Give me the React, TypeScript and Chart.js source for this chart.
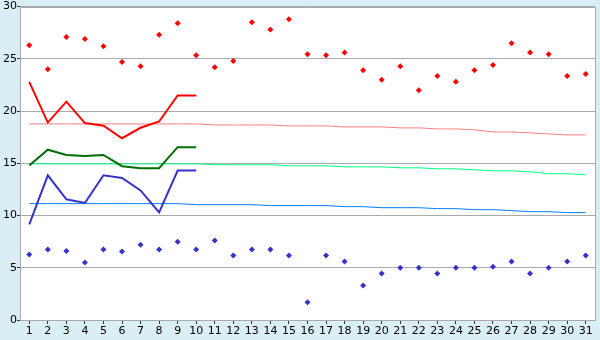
import React, { useEffect, useRef } from "react";
import { Chart, registerables } from "chart.js";

Chart.register(...registerables);

const days = ["1","2","3","4","5","6","7","8","9","10","11","12","13","14","15","16","17","18","19","20","21","22","23","24","25","26","27","28","29","30","31"];

const dailyMax = [26.3, 24.0, 27.1, 26.9, 26.2, 24.7, 24.3, 27.3, 28.4, 25.35, 24.2, 24.8, 28.5, 27.8, 28.8, 25.45, 25.35, 25.6, 23.9, 23.0, 24.3, 22.0, 23.35, 22.8, 23.9, 24.4, 26.5, 25.6, 25.45, 23.35, 23.55];
const dailyMin = [6.27, 6.75, 6.6, 5.5, 6.75, 6.55, 7.2, 6.75, 7.5, 6.75, 7.6, 6.17, 6.75, 6.75, 6.17, 1.7, 6.17, 5.6, 3.3, 4.45, 5.0, 5.0, 4.45, 5.0, 5.0, 5.1, 5.6, 4.45, 5.0, 5.6, 6.17];

const avgMax = [22.8, 18.9, 20.9, 18.85, 18.6, 17.4, 18.4, 19.0, 21.5, 21.5];
const avgMean = [14.8, 16.3, 15.8, 15.7, 15.8, 14.72, 14.53, 14.53, 16.54, 16.54];
const avgMin = [9.15, 13.85, 11.55, 11.2, 13.85, 13.6, 12.4, 10.3, 14.3, 14.3];

const normalMax = [18.77, 18.77, 18.77, 18.77, 18.77, 18.77, 18.77, 18.77, 18.77, 18.77, 18.67, 18.67, 18.67, 18.67, 18.58, 18.58, 18.58, 18.48, 18.48, 18.48, 18.39, 18.39, 18.29, 18.29, 18.2, 18.0, 18.0, 17.91, 17.81, 17.72, 17.72];
const normalMean = [14.95, 14.95, 14.95, 14.95, 14.95, 14.95, 14.95, 14.95, 14.95, 14.95, 14.86, 14.86, 14.86, 14.86, 14.76, 14.76, 14.76, 14.66, 14.66, 14.66, 14.57, 14.57, 14.47, 14.47, 14.38, 14.28, 14.28, 14.19, 14.0, 14.0, 13.9];
const normalMin = [11.14, 11.14, 11.14, 11.14, 11.14, 11.14, 11.14, 11.14, 11.14, 11.04, 11.04, 11.04, 11.04, 10.95, 10.95, 10.95, 10.95, 10.85, 10.85, 10.75, 10.75, 10.75, 10.66, 10.66, 10.56, 10.56, 10.47, 10.37, 10.37, 10.28, 10.28];

const yTicks = [0, 5, 10, 15, 20, 25, 30];

const bgPlugin = {
  id: "bgPlugin",
  beforeDraw(chart: any) {
    const { ctx, chartArea } = chart;
    ctx.save();
    ctx.fillStyle = "#daeef5";
    ctx.fillRect(0, 0, chart.width, chart.height);
    ctx.fillStyle = "#ffffff";
    ctx.fillRect(chartArea.left, chartArea.top, chartArea.right - chartArea.left, chartArea.bottom - chartArea.top);
    ctx.restore();
  },
  beforeDatasetsDraw(chart: any) {
    const { ctx, chartArea } = chart;
    ctx.save();
    ctx.strokeStyle = "#aaaaaa";
    ctx.lineWidth = 1;
    ctx.beginPath();
    ctx.moveTo(chartArea.left, Math.round(chartArea.top) + 0.5);
    ctx.lineTo(Math.round(chartArea.right) + 0.5, Math.round(chartArea.top) + 0.5);
    ctx.lineTo(Math.round(chartArea.right) + 0.5, chartArea.bottom);
    ctx.stroke();
    ctx.restore();
  },
};

export default function App() {
  const ref = useRef<HTMLCanvasElement | null>(null);
  useEffect(() => {
    document.body.style.margin = "0";
    if (!ref.current) return;
    const pad = (arr: number[]) => days.map((_, i) => (i < arr.length ? arr[i] : null));
    const chart = new Chart(ref.current, {
      type: "line",
      data: {
        labels: days,
        datasets: [
          { data: dailyMax, showLine: false, pointStyle: "rectRot", pointRadius: 3, pointBackgroundColor: "#ff0000", pointBorderWidth: 0, borderColor: "#ff0000" },
          { data: dailyMin, showLine: false, pointStyle: "rectRot", pointRadius: 3, pointBackgroundColor: "#3333cc", pointBorderWidth: 0, borderColor: "#3333cc" },
          { data: pad(avgMax), borderColor: "#ff0000", borderWidth: 2, pointRadius: 0, tension: 0, spanGaps: false },
          { data: pad(avgMean), borderColor: "#006e00", borderWidth: 2, pointRadius: 0, tension: 0, spanGaps: false },
          { data: pad(avgMin), borderColor: "#3333cc", borderWidth: 2, pointRadius: 0, tension: 0, spanGaps: false },
          { data: normalMax, borderColor: "#ff8080", borderWidth: 1, pointRadius: 0, tension: 0 },
          { data: normalMean, borderColor: "#00ff80", borderWidth: 1, pointRadius: 0, tension: 0 },
          { data: normalMin, borderColor: "#0080ff", borderWidth: 1, pointRadius: 0, tension: 0 },
        ],
      },
      options: {
        responsive: false,
        animation: false,
        events: [],
        layout: { padding: { top: 5, right: 5, left: 0, bottom: 0 }, autoPadding: false },
        plugins: { legend: { display: false }, tooltip: { enabled: false } },
        scales: {
          x: {
            type: "category",
            offset: true,
            grid: { display: true, drawOnChartArea: false, drawTicks: true, tickLength: 4, tickColor: "#333333", offset: false },
            border: { display: true, color: "#aaaaaa" },
            ticks: { color: "#000000", font: { family: "DejaVu Sans", size: 11 }, padding: 1, maxRotation: 0, autoSkip: false },
            afterFit: (s: any) => { s.height = 20; },
          },
          y: {
            min: 0,
            max: 30,
            afterBuildTicks: (s: any) => { s.ticks = yTicks.map((v) => ({ value: v })); },
            grid: { color: "#aaaaaa", lineWidth: 1, drawTicks: true, tickLength: 3, tickColor: "#333333" },
            border: { display: true, color: "#aaaaaa" },
            ticks: { color: "#000000", font: { family: "DejaVu Sans", size: 11 }, padding: 0 },
            afterFit: (s: any) => { s.width = 20; },
          },
        },
      },
      plugins: [bgPlugin],
    } as any);
    return () => chart.destroy();
  }, []);
  return (
    <div style={{ width: 600, height: 340 }}>
      <canvas ref={ref} width={600} height={340} style={{ display: "block", width: 600, height: 340 }} />
    </div>
  );
}
